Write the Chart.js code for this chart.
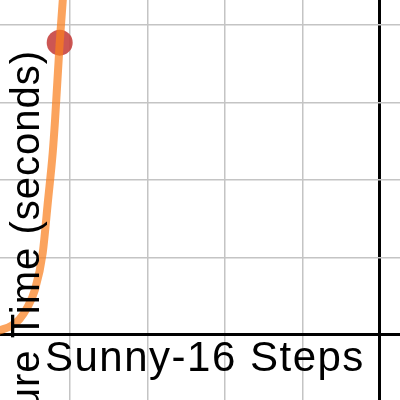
<!DOCTYPE html>
<html>
<head>
<meta charset="utf-8">
<script src="https://cdn.jsdelivr.net/npm/chart.js@4"></script>
<style>
  body { margin: 0; background: #fff; }
  #wrap { position: relative; width: 400px; height: 400px; overflow: hidden; }
  .lbl { position: absolute; font-family: "Liberation Sans", Arial, sans-serif; font-size: 42px; color: #000; white-space: nowrap; line-height: 42px; letter-spacing: 1.5px; }
  #xlabel { left: 45px; top: 336px; }
  #ylabel { left: 4px; top: 650px; width: 600px; text-align: right; transform-origin: top left; transform: rotate(-90deg); font-size: 40px; letter-spacing: 1px; }
</style>
</head>
<body>
<div id="wrap">
  <canvas id="c" width="400" height="400"></canvas>
  <div class="lbl" id="xlabel">Sunny-16 Steps</div>
  <div class="lbl" id="ylabel">Exposure Time (seconds)</div>
</div>
<script>
// ── Data ──────────────────────────────────────────────────────────────────────
const curveX = [-5.0, -4.9, -4.75, -4.65, -4.55, -4.45, -4.35, -4.28, -4.22, -4.19, -4.13, -4.09, -4.05];
const curveY = [0.03, 0.06, 0.12, 0.2, 0.35, 0.58, 1.05, 1.74, 2.35, 2.77, 3.77, 4.32, 5.0];
const pointX = [-4.13];
const pointY = [3.77];
const xTicks = [-4, -3, -2, -1, 0];
const yTicks = [0, 1, 2, 3, 4];

const gridColor = ctx => ctx.tick && ctx.tick.value === 0 ? "#000" : "#c4c4c4";
const gridWidth = ctx => ctx.tick && ctx.tick.value === 0 ? 3 : 1.5;

function axis(min, max, ticks) {
  return {
    type: "linear", min, max,
    afterBuildTicks: s => { s.ticks = ticks.map(v => ({ value: v })); },
    ticks: { display: false },
    border: { display: false },
    grid: { color: gridColor, lineWidth: gridWidth, drawTicks: false },
  };
}

new Chart(document.getElementById("c"), {
  type: "line",
  data: {
    datasets: [
      {
        data: pointX.map((x, i) => ({ x, y: pointY[i] })),
        showLine: false, pointRadius: 13, pointBackgroundColor: "rgba(199,68,64,0.9)",
        pointBorderWidth: 0, order: 2,
      },
      {
        data: curveX.map((x, i) => ({ x, y: curveY[i] })),
        borderColor: "rgba(250,128,30,0.72)", borderWidth: 8, pointRadius: 0,
        cubicInterpolationMode: "monotone", order: 1,
      },
    ],
  },
  options: {
    responsive: false, animation: false,
    layout: { padding: 0, autoPadding: false },
    plugins: { legend: { display: false }, tooltip: { enabled: false } },
    scales: { x: axis(-4.9, 0.26, xTicks), y: axis(-0.84, 4.32, yTicks) },
  },
});
</script>
</body>
</html>
